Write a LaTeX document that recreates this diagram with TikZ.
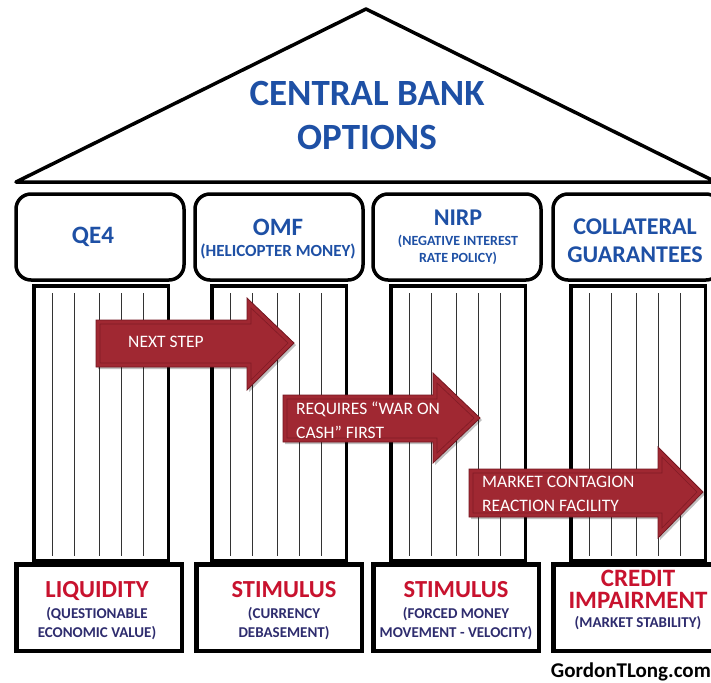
\documentclass[tikz,border=0pt]{standalone}
\usepackage{fontspec}
\setmainfont{Carlito}
\usetikzlibrary{calc}
\definecolor{tblue}{RGB}{30,80,165}
\definecolor{tred}{RGB}{200,18,46}
\definecolor{tnavy}{RGB}{46,44,110}
\definecolor{arrowred}{RGB}{160,40,50}
\definecolor{arrowedge}{RGB}{115,22,32}
\begin{document}
\begin{tikzpicture}[x=1pt,y=-1pt,
  capbox/.style={draw, fill=white, line width=3.5pt, rounded corners=15pt, minimum width=168pt, minimum height=86pt, inner sep=0pt},
  shaft/.style={draw, fill=white, line width=3.5pt, minimum width=134.5pt, minimum height=274.5pt, inner sep=0pt},
  basebox/.style={draw, fill=white, line width=4.5pt, minimum width=165.5pt, minimum height=86.5pt, inner sep=0pt},
  flute/.style={line width=0.8pt, black!80},
  roof/.style={line width=3.5pt, line join=round},
  captext/.style={text=tblue, align=center, inner sep=0pt, font=\bfseries\fontsize{17}{19}\selectfont},
  basetext/.style={text=tnavy, align=center, inner sep=0pt, font=\bfseries\fontsize{15}{19.5}\selectfont},
  steparrow/.style={fill=arrowred, draw=arrowedge, line width=0.8pt},
  arrowbevel/.style={draw=arrowedge!70!arrowred, line width=0.6pt},
  arrowshadow/.style={fill=black, opacity=0.25},
  arrowtext/.style={text=white, font=\fontsize{17.5}{24}\selectfont, align=left, anchor=west, inner sep=0pt},
]
\useasboundingbox (0,0) rectangle (711,682);
\clip (0,0) rectangle (711,682);

% roof
\coordinate (rl) at (16,182);
\coordinate (ra) at (366,9);
\coordinate (rr) at (716,182);
\draw[roof] (rl) -- (ra) -- (rr) -- cycle;
\node[text=tblue, align=center, inner sep=0pt, font=\bfseries\fontsize{37}{44}\selectfont] (title) at (367,115) {CENTRAL BANK\\OPTIONS};

% shafts
\node[shaft] (s1) at (101,423) {};
\node[shaft] (s2) at (279,423) {};
\node[shaft] (s3) at (458,423) {};
\node[shaft] (s4) at (638,423) {};
\foreach \s in {s1,s2,s3,s4}
  \foreach \o in {20,42,67,89,111}
    \draw[flute] ($(\s.north west)+(\o,9)$) -- ($(\s.south west)+(\o,-6)$);

% capitals
\node[capbox] (c1) at (100,237) {};
\node[capbox] (c2) at (279,237) {};
\node[capbox] (c3) at (457,237) {};
\node[capbox] (c4) at (637,237) {};
\node[captext] (tc1) at (93,237) {\fontsize{25}{25}\selectfont QE4};
\node[captext] (tc2) at (278,239.5) {\fontsize{25}{25}\selectfont OMF\\[2pt](HELICOPTER MONEY)};
\node[captext, font=\bfseries\fontsize{14}{17}\selectfont] (tc3) at (458,237) {\fontsize{24}{24}\selectfont NIRP\\[3pt](NEGATIVE INTEREST\\RATE POLICY)};
\node[captext, font=\bfseries\fontsize{24}{28}\selectfont] (tc4) at (635,241) {COLLATERAL\\GUARANTEES};

% bases
\node[basebox] (b1) at (99,607.5) {};
\node[basebox] (b2) at (279,607.5) {};
\node[basebox] (b3) at (456,607.5) {};
\node[basebox] (b4) at (636,607.5) {};
\node[basetext] (tb1) at (97,611) {\fontsize{24.5}{24.5}\selectfont\color{tred}LIQUIDITY\\[1pt](QUESTIONABLE\\ECONOMIC VALUE)};
\node[basetext] (tb2) at (284,611) {\fontsize{24.5}{24.5}\selectfont\color{tred}STIMULUS\\[1pt](CURRENCY\\DEBASEMENT)};
\node[basetext] (tb3) at (456,611) {\fontsize{24.5}{24.5}\selectfont\color{tred}STIMULUS\\[1pt](FORCED MONEY\\MOVEMENT - VELOCITY)};
\node[basetext] (tb4) at (638,600) {\fontsize{25}{25}\selectfont\color{tred}CREDIT\\[2.5pt]\fontsize{25}{25}\selectfont\color{tred}IMPAIRMENT\\[0pt](MARKET STABILITY)};

% arrows
\fill[arrowshadow] (98,322) -- (249,322) -- (249,300) -- (296,345) -- (249,392) -- (249,369) -- (98,369) -- cycle;
\draw[steparrow] (96,320) -- (247,320) -- (247,298) -- (294,343) -- (247,390) -- (247,367) -- (96,367) -- cycle;
\draw[arrowbevel] (100,324) -- (251,324) -- (251,308) -- (288,343) -- (251,380) -- (251,363) -- (100,363) -- cycle;
\node[arrowtext] (a1) at (128,342) {NEXT STEP};

\fill[arrowshadow] (285,397) -- (435,397) -- (435,375) -- (482,420) -- (435,465) -- (435,444) -- (285,444) -- cycle;
\draw[steparrow] (283,395) -- (433,395) -- (433,373) -- (480,418) -- (433,463) -- (433,442) -- (283,442) -- cycle;
\draw[arrowbevel] (287,399) -- (437,399) -- (437,383) -- (474,418) -- (437,453) -- (437,438) -- (287,438) -- cycle;
\node[arrowtext] (a2) at (296,420) {REQUIRES “WAR ON\\CASH” FIRST};

\fill[arrowshadow] (471,471) -- (660,471) -- (660,449) -- (705,494) -- (660,540) -- (660,519) -- (471,519) -- cycle;
\draw[steparrow] (469,469) -- (658,469) -- (658,447) -- (703,492) -- (658,538) -- (658,517) -- (469,517) -- cycle;
\draw[arrowbevel] (473,473) -- (662,473) -- (662,457) -- (697,492) -- (662,528) -- (662,513) -- (473,513) -- cycle;
\node[arrowtext] (a3) at (482,494) {MARKET CONTAGION\\REACTION FACILITY};

% credit
\node[anchor=east, inner sep=0pt, font=\bfseries\fontsize{21}{21}\selectfont] (site) at (711,672) {GordonTLong.com};
\end{tikzpicture}
\end{document}
